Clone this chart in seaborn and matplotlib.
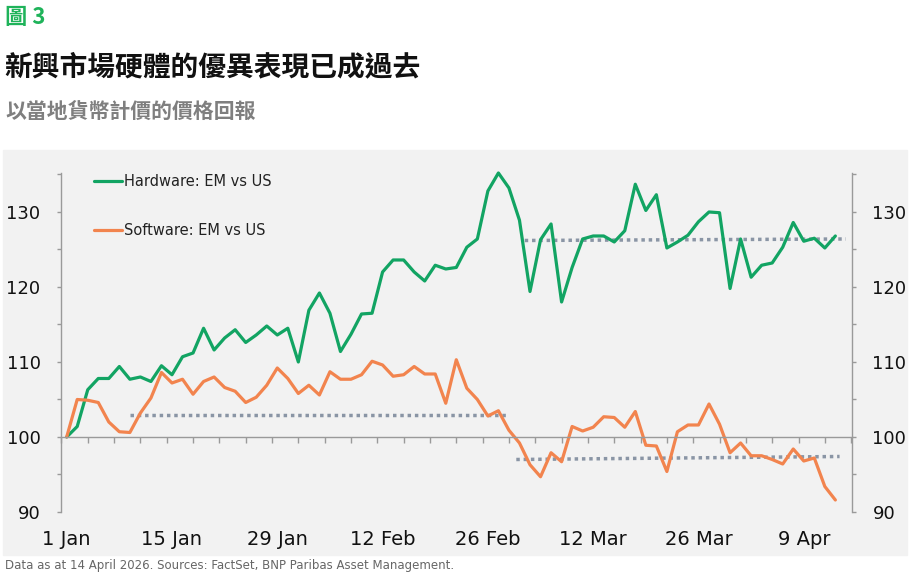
import numpy as np
import pandas as pd
import matplotlib
matplotlib.use("Agg")
import matplotlib.pyplot as plt
from matplotlib.patches import Rectangle
import seaborn as sns

# weekdays from 1 Jan to 14 Apr 2026, one point per trading day
dates = pd.bdate_range("2026-01-01", "2026-04-14")

hardware = [100, 101.4, 106.3, 107.8, 107.8, 109.4, 107.7, 108.0, 107.4, 109.5,
            108.3, 110.7, 111.2, 114.5, 111.6, 113.2, 114.3, 112.6, 113.6,
            114.8, 113.6, 114.5, 110.0, 116.9, 119.2, 116.5, 111.4, 113.7, 116.4,
            116.5, 122.0, 123.6, 123.6, 122.0, 120.8, 122.9, 122.4, 122.6,
            125.3, 126.4, 132.8, 135.2, 133.2, 128.9, 119.4, 126.3, 128.4, 118.0,
            122.6, 126.4, 126.8, 126.8, 126.0, 127.5, 133.7, 130.2, 132.3,
            125.2, 126.0, 126.9, 128.7, 130.0, 129.9, 119.8, 126.4, 121.3, 122.9,
            123.2, 125.3, 128.6, 126.1, 126.5, 125.2, 126.8]

software = [100, 105.0, 104.9, 104.6, 102.0, 100.7, 100.6, 103.2, 105.2, 108.6,
            107.2, 107.7, 105.7, 107.4, 108.0, 106.6, 106.1, 104.6, 105.3,
            106.9, 109.2, 107.8, 105.8, 106.9, 105.6, 108.7, 107.7, 107.7, 108.3,
            110.1, 109.6, 108.1, 108.3, 109.4, 108.4, 108.4, 104.5, 110.3,
            106.5, 105.0, 102.8, 103.5, 100.9, 99.2, 96.3, 94.7, 97.9, 96.7,
            101.4, 100.8, 101.3, 102.7, 102.6, 101.3, 103.4, 98.9, 98.8,
            95.4, 100.7, 101.6, 101.6, 104.4, 101.7, 97.9, 99.2, 97.5, 97.5,
            97.0, 96.4, 98.4, 96.8, 97.2, 93.4, 91.6]

series_names = ["Hardware: EM vs US", "Software: EM vs US"]

# dotted reference levels: (start index, end index, start value, end value)
soft_level_1 = (6.0, 42.0, 102.9, 102.9)
soft_level_2 = (42.7, 73.4, 97.0, 97.4)
hard_level = (43.5, 74.0, 126.2, 126.4)

yticks = [90, 100, 110, 120, 130]

green = "#12a463"
orange = "#f2844e"
dot_col = "#8a95a5"

df = pd.DataFrame({
    "idx": list(range(len(dates))) * 2,
    "value": hardware + software,
    "series": [series_names[0]] * len(dates) + [series_names[1]] * len(dates),
})

sns.set_style("ticks")
plt.rcParams["font.family"] = ["DejaVu Sans", "Noto Sans CJK TC"]

fig = plt.figure(figsize=(9.1, 5.76), dpi=100)
fig.patches.append(Rectangle((3 / 910, 1 - 555 / 576), 904 / 910, 405 / 576,
                             transform=fig.transFigure, color="#f2f2f2", zorder=-5))

ax = fig.add_axes([61 / 910, 1 - 512 / 576, 791 / 910, (512 - 172.6) / 576])
ax.set_facecolor("none")

for lv in (soft_level_1, soft_level_2, hard_level):
    ax.plot([lv[0], lv[1]], [lv[2], lv[3]], color=dot_col, lw=2.5,
            ls=(0, (1, 1.1)), zorder=1.5)

sns.lineplot(data=df, x="idx", y="value", hue="series",
             palette=[green, orange], linewidth=2.3, ax=ax, zorder=2)
for ln in ax.get_lines():
    ln.set_clip_on(False)

ax.set_xlim(-0.54, 74.58)
ax.set_ylim(90, 135.25)
ax.set_xlabel("")
ax.set_ylabel("")

# spines
for s in ("left", "right", "bottom"):
    ax.spines[s].set_color("#9a9a9a")
    ax.spines[s].set_linewidth(1)
ax.spines["top"].set_visible(False)
ax.spines["bottom"].set_position(("data", 100))

# y ticks on both sides
ax.set_yticks(yticks)
ax.set_yticks(np.arange(95, 136, 10), minor=True)
ax.tick_params(axis="y", which="both", left=True, right=True, labelleft=True,
               labelright=True, length=3.2, width=1, color="#9a9a9a",
               labelsize=13, pad=11.5, labelcolor="#111111")

# small tick marks on the 100 line
ax.set_xticks(np.arange(-0.5, 74.6, 2.5))
ax.tick_params(axis="x", which="major", length=4, width=1, color="#9a9a9a",
               labelbottom=False)

# date labels along the bottom
lab_pos = list(range(0, len(dates), 10))
lab_txt = [f"{d.day} {d.strftime('%b')}" for d in dates[lab_pos]]
ax2 = ax.secondary_xaxis(0)
ax2.set_xticks(lab_pos)
ax2.set_xticklabels(lab_txt)
ax2.tick_params(length=0, labelsize=14, pad=13, labelcolor="#111111")
ax2.spines["bottom"].set_visible(False)

leg = ax.legend(loc="upper left", bbox_to_anchor=(0.042, 0.995), frameon=False,
                handlelength=1.9, handletextpad=0.15, labelspacing=2.3,
                fontsize=10.5, borderaxespad=0, borderpad=0)
for t in leg.get_texts():
    t.set_color("#222222")

cjk = ["Noto Sans CJK TC", "DejaVu Sans"]
fig.text(5 / 910, 1 - 17 / 576, "圖 3", color="#1fb35a", fontsize=16,
         fontweight="bold", va="center", family=cjk)
fig.text(4 / 910, 1 - 67 / 576, "新興市場硬體的優異表現已成過去", color="#111111",
         fontsize=20, fontweight="bold", va="center", family=cjk)
fig.text(5 / 910, 1 - 112.5 / 576, "以當地貨幣計價的價格回報", color="#7f7f7f",
         fontsize=15, fontweight="bold", va="center", family=cjk)
fig.text(5 / 910, 1 - 566 / 576,
         "Data as at 14 April 2026. Sources: FactSet, BNP Paribas Asset Management.",
         color="#666666", fontsize=8.5, va="center")

fig.savefig("out.png", dpi=100)
